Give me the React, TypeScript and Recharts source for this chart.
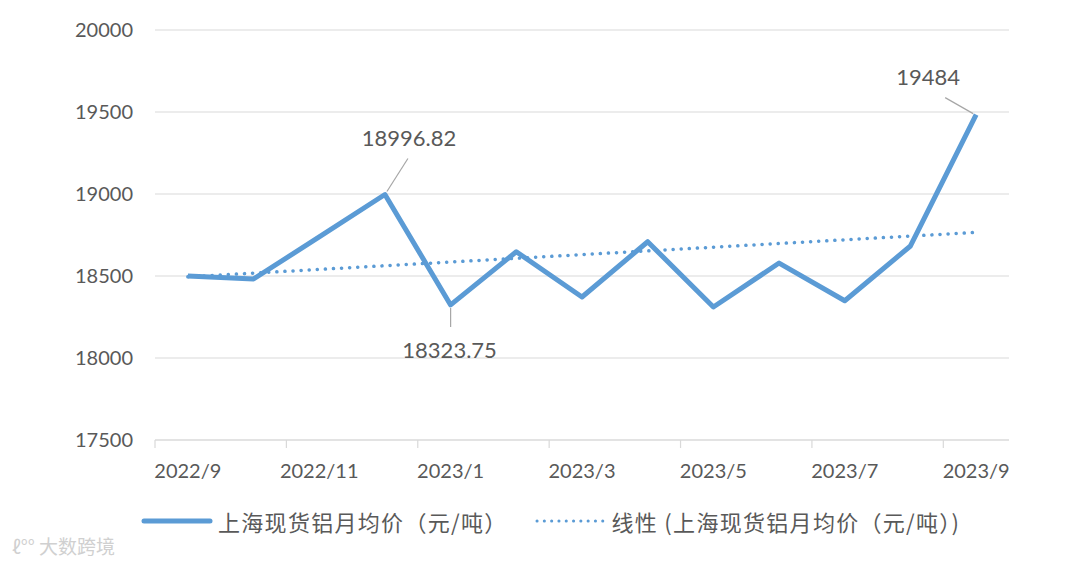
import { LineChart, Line, XAxis, YAxis, CartesianGrid, LabelList } from 'recharts';

const months = ['2022/9', '2022/10', '2022/11', '2022/12', '2023/1', '2023/2', '2023/3', '2023/4', '2023/5', '2023/6', '2023/7', '2023/8', '2023/9'];
const avgPrice = [18500, 18482, 18738, 18996.82, 18323.75, 18648, 18372, 18709, 18311, 18579, 18349, 18683, 19484];
// trendline: only its two ends
const trendEnds = [18495, 18766];
const yTicks = [17500, 18000, 18500, 19000, 19500, 20000];
const seriesName = '上海现货铝月均价（元/吨）';
const trendName = '线性 (上海现货铝月均价（元/吨）)';
const labelled = [3, 4, 12];

const W = 1080, H = 567;
const M = { top: 30, right: 71, bottom: 97, left: 0 };
const Y_W = 155;
const BLUE = '#5b9bd5';
const TXT = '#595959';
const FONT = 'Lato, "Noto Sans", sans-serif';

const data = months.map((m, i) => ({
    month: m,
    price: avgPrice[i],
    trend: i === 0 ? trendEnds[0] : i === months.length - 1 ? trendEnds[1] : null,
}));

const band = (W - M.left - Y_W - M.right) / months.length;

// where each annotation sits relative to its point: [text dx, text dy, lead x1, lead y1, lead x2, lead y2]
const labelPos: Record<number, number[]> = {
    3: [24, -57, 2, -3, 23, -36],
    4: [-1, 45, 0, 3, 0, 22],
    12: [-48, -38, -3, -1, -31, -17],
};

const PriceLabel = (props: any) => {
    const { x, y, value, index } = props;
    if (!labelled.includes(index)) return null;
    const p = labelPos[index];
    return (
        <g>
            <line x1={x + p[2]} y1={y + p[3]} x2={x + p[4]} y2={y + p[5]} stroke="#a6a6a6" strokeWidth={1.2} />
            <text x={x + p[0]} y={y + p[1]} textAnchor="middle" dominantBaseline="central" fill={TXT} fontSize={22} fontFamily={FONT}>
                {value}
            </text>
        </g>
    );
};

const MonthTick = (props: any) => {
    const { x, y, payload } = props;
    return (
        <g>
            <line x1={x - band / 2} y1={y - 8} x2={x - band / 2} y2={y} stroke="#d9d9d9" strokeWidth={1.2} />
            <text x={x} y={y + 30} textAnchor="middle" fill={TXT} fontSize={20} fontFamily={FONT}>
                {payload.value}
            </text>
        </g>
    );
};

export default function App() {
    return (
        <div style={{ position: 'absolute', left: 0, top: 0, width: W, height: H, background: '#fff' }}>
            <LineChart width={W} height={H} data={data} margin={M}>
                <CartesianGrid vertical={false} stroke="#d9d9d9" strokeWidth={1.2} />
                <XAxis
                    dataKey="month"
                    interval={1}
                    height={30}
                    padding={{ left: band / 2, right: band / 2 }}
                    tickLine={false}
                    tickSize={8}
                    tickMargin={0}
                    axisLine={{ stroke: '#d9d9d9', strokeWidth: 1.2 }}
                    tick={<MonthTick />}
                />
                <YAxis
                    width={Y_W}
                    domain={[17500, 20000]}
                    ticks={yTicks}
                    axisLine={false}
                    tickLine={false}
                    tickMargin={16}
                    tick={{ fill: TXT, fontSize: 20, fontFamily: FONT }}
                />
                <Line
                    type="linear"
                    dataKey="trend"
                    name={trendName}
                    stroke={BLUE}
                    strokeWidth={3.5}
                    strokeDasharray="0.1 8"
                    strokeLinecap="round"
                    dot={false}
                    connectNulls
                    isAnimationActive={false}
                />
                <Line
                    type="linear"
                    dataKey="price"
                    name={seriesName}
                    stroke={BLUE}
                    strokeWidth={5}
                    strokeLinejoin="round"
                    dot={false}
                    isAnimationActive={false}
                >
                    <LabelList dataKey="price" content={<PriceLabel />} />
                </Line>
            </LineChart>
            <div style={{ position: 'absolute', top: 505, left: 141, display: 'flex', alignItems: 'center', fontFamily: '"Noto Sans CJK SC", sans-serif', fontSize: 22, letterSpacing: 1.3, color: TXT, whiteSpace: 'nowrap' }}>
                <svg width={72} height={10}><line x1={3} y1={5} x2={69} y2={5} stroke={BLUE} strokeWidth={5} strokeLinecap="round" /></svg>
                <span style={{ marginLeft: 5 }}>{seriesName}</span>
                <svg width={70} height={10} style={{ marginLeft: 27 }}><line x1={2} y1={5} x2={68} y2={5} stroke={BLUE} strokeWidth={3} strokeDasharray="0.1 7.2" strokeLinecap="round" /></svg>
                <span style={{ marginLeft: 7 }}>{trendName}</span>
            </div>
            <div style={{ position: 'absolute', top: 532, left: 12, fontFamily: '"Noto Sans CJK SC", sans-serif', fontSize: 19, color: '#d0d0d0' }}>
                ℓ°° 大数跨境
            </div>
        </div>
    );
}
